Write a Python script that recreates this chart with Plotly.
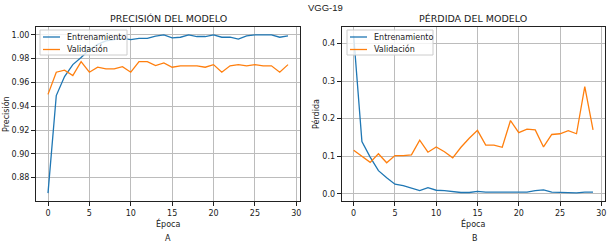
import plotly.graph_objects as go

epochs = list(range(30))

acc_train = [0.867, 0.949, 0.965, 0.975, 0.981, 0.9875, 0.992, 0.995, 0.996, 0.997,
             0.996, 0.997, 0.997, 0.999, 1.000, 0.9975, 0.998, 1.000, 0.9986, 0.9986,
             1.000, 0.998, 0.998, 0.9964, 0.9992, 1.000, 1.000, 1.000, 0.998, 0.9992]
acc_val = [0.950, 0.9686, 0.9703, 0.9658, 0.9775, 0.9686, 0.9728, 0.9714, 0.9714, 0.9733,
           0.9686, 0.9775, 0.9775, 0.9742, 0.9764, 0.9728, 0.9739, 0.974, 0.974, 0.9728,
           0.975, 0.9686, 0.974, 0.975, 0.974, 0.975, 0.974, 0.974, 0.9686, 0.975]

loss_train = [0.420, 0.139, 0.098, 0.062, 0.043, 0.026, 0.022, 0.015, 0.009, 0.017,
              0.010, 0.009, 0.006, 0.004, 0.004, 0.007, 0.005, 0.005, 0.005, 0.006,
              0.005, 0.005, 0.009, 0.011, 0.005, 0.004, 0.004, 0.003, 0.005, 0.005]
loss_val = [0.116, 0.099, 0.084, 0.107, 0.083, 0.102, 0.102, 0.104, 0.143, 0.111,
            0.125, 0.112, 0.096, 0.124, 0.148, 0.169, 0.130, 0.130, 0.124, 0.195,
            0.163, 0.172, 0.170, 0.125, 0.158, 0.160, 0.168, 0.160, 0.285, 0.170]

series_names = ["Entrenamiento", "Validación"]
acc_ticks = [0.88, 0.90, 0.92, 0.94, 0.96, 0.98, 1.00]
loss_ticks = [0.0, 0.1, 0.2, 0.3, 0.4]
x_ticks = [0, 5, 10, 15, 20, 25, 30]

BLUE = "#1f77b4"
ORANGE = "#ff7f0e"
COLORS = [BLUE, ORANGE]
FONT = "DejaVu Sans"
TXT = "#1a1a1a"

fig = go.Figure()
fig.add_trace(go.Scatter(x=epochs, y=acc_train, mode="lines", name=series_names[0],
                         line=dict(color=BLUE, width=1.3), xaxis="x", yaxis="y"))
fig.add_trace(go.Scatter(x=epochs, y=acc_val, mode="lines", name=series_names[1],
                         line=dict(color=ORANGE, width=1.3), xaxis="x", yaxis="y"))
fig.add_trace(go.Scatter(x=epochs, y=loss_train, mode="lines", name=series_names[0],
                         line=dict(color=BLUE, width=1.3), xaxis="x2", yaxis="y2"))
fig.add_trace(go.Scatter(x=epochs, y=loss_val, mode="lines", name=series_names[1],
                         line=dict(color=ORANGE, width=1.3), xaxis="x2", yaxis="y2"))

W, H = 613, 245
def px(x):
    return x / W
def py(y):
    return 1 - y / H

axis_common = dict(showline=True, mirror=True, linecolor="#222", linewidth=1,
                   showgrid=True, gridcolor="#bcbcbc", gridwidth=1,
                   ticks="outside", ticklen=4, tickwidth=1, tickcolor="#222",
                   tickfont=dict(family=FONT, size=8, color=TXT), zeroline=False)

ydom = [py(201), py(27)]
fig.update_layout(
    width=W, height=H,
    margin=dict(l=0, r=0, t=0, b=0),
    paper_bgcolor="white", plot_bgcolor="white",
    showlegend=False,
    xaxis=dict(domain=[px(36), px(300)], range=[-1.45, 30.45], tickvals=x_ticks, anchor="y", **axis_common),
    yaxis=dict(domain=ydom, range=[0.8604, 1.0066], tickvals=acc_ticks, tickformat=".2f", anchor="x", **axis_common),
    xaxis2=dict(domain=[px(341.7), px(605)], range=[-1.45, 30.45], tickvals=x_ticks, anchor="y2", **axis_common),
    yaxis2=dict(domain=ydom, range=[-0.0186, 0.4434], tickvals=loss_ticks, tickformat=".1f", anchor="x2", **axis_common),
)

def ann(text, x, y, size, angle=0, xanchor="center", family=FONT):
    fig.add_annotation(text=text, x=px(x), y=py(y), xref="paper", yref="paper",
                       showarrow=False, xanchor=xanchor, yanchor="middle", textangle=angle,
                       font=dict(family=family, size=size, color=TXT))

# custom legends (one per panel)
for (bx0, bx1) in [(40, 127), (347, 433)]:
    fig.add_shape(type="rect", xref="paper", yref="paper",
                  x0=px(bx0), x1=px(bx1), y0=py(55), y1=py(30),
                  fillcolor="rgba(255,255,255,0.8)", line=dict(color="#cccccc", width=1), layer="above")
    for i, (name, col) in enumerate(zip(series_names, COLORS)):
        yy = 37 + i * 12.5
        fig.add_shape(type="line", xref="paper", yref="paper",
                      x0=px(bx0 + 3), x1=px(bx0 + 20), y0=py(yy), y1=py(yy),
                      line=dict(color=col, width=1.3), layer="above")
        ann(name, bx0 + 25, yy, 8, xanchor="left")

ann("PRECISIÓN DEL MODELO", 168, 18, 9.5)
ann("PÉRDIDA DEL MODELO", 473, 18, 9.5)
ann("VGG-19", 326, 8, 9.5, family="Liberation Sans")
ann("Precisión", 6, 114, 8, -90)
ann("Pérdida", 316, 114, 8, -90)
ann("Época", 168, 223, 8)
ann("Época", 473, 223, 8)
ann("A", 168, 238, 8)
ann("B", 475, 238, 8)

fig.write_html("out.html", config={"displayModeBar": False},
               post_script="document.body.style.margin='0';document.body.style.overflow='hidden';")
